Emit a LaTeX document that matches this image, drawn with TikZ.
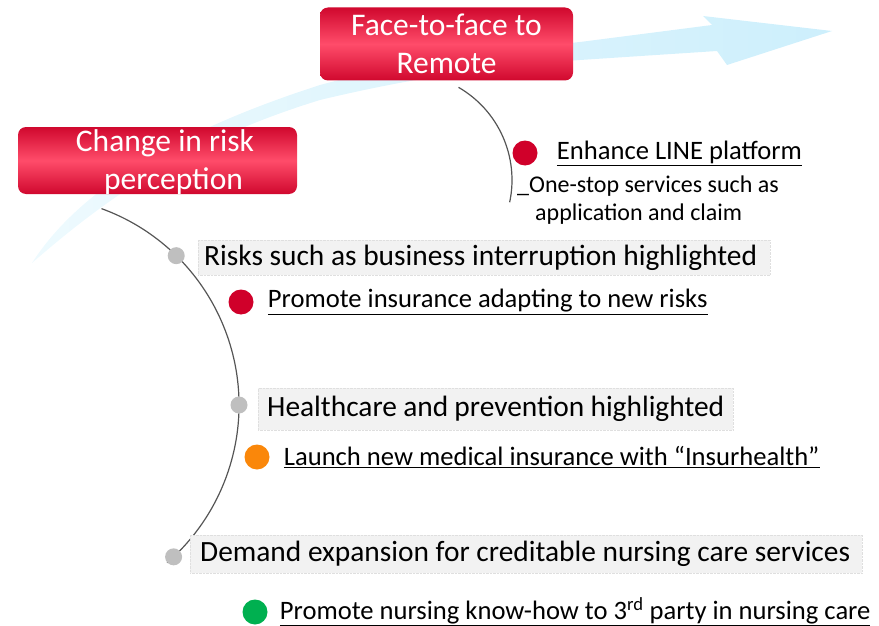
\documentclass[tikz,border=0pt]{standalone}
\usepackage{fontspec}
\setmainfont{Carlito}
\usetikzlibrary{positioning}

\definecolor{topicdark}{RGB}{208,8,46}
\definecolor{topiclight}{RGB}{255,76,106}
\definecolor{flowtail}{RGB}{238,250,254}
\definecolor{flowhead}{RGB}{205,239,252}
\definecolor{dotred}{RGB}{208,0,42}
\definecolor{dotorange}{RGB}{250,135,10}
\definecolor{dotgreen}{RGB}{0,176,80}
\definecolor{wiregray}{RGB}{85,85,85}

\tikzset{
	topic/.style={rounded corners=8pt, top color=topicdark, bottom color=topicdark,
		middle color=topiclight, text=white, align=center, inner sep=0pt,
		font=\fontsize{31.5}{38}\selectfont},
	theme/.style={fill=gray!10, draw=gray!25, densely dotted, anchor=west, align=flush left,
		inner xsep=10pt, font=\fontsize{29.4}{34}\selectfont},
	pin/.style={circle, fill=gray!50, minimum size=17pt, inner sep=0pt},
	bullet/.style={circle, minimum size=25pt, inner sep=0pt},
	action/.style={inner sep=0pt, font=\fontsize{26.6}{32}\selectfont},
	note/.style={inner sep=0pt, align=flush left, font=\fontsize{24}{28}\selectfont},
	wire/.style={draw=wiregray, line width=1.2pt}
}

\begin{document}
\begin{tikzpicture}[x=1pt, y=-1pt]
	\useasboundingbox (0,0) rectangle (879,626);

	% the wide light arrow behind both topics
	\shade[left color=flowtail, right color=flowhead]
		(32,263) .. controls (80,188) and (180,130) .. (320,85)
		.. controls (420,58) and (500,50) .. (580,42)
		-- (712,25) -- (703,16) -- (832,31) -- (727,65) -- (717,51)
		-- (580,60) .. controls (500,66) and (420,76) .. (320,100)
		.. controls (190,140) and (110,195) .. (32,263) -- cycle;

	% topics
	\node[topic, minimum width=253pt, minimum height=73pt] (remote) at (446.5,44)
		{Face-to-face to\\Remote};
	\node[topic, minimum width=279pt, minimum height=67pt, text depth=2pt] (risk) at (157.5,160.5)
		{\hspace*{15pt}Change in risk\\\hspace*{32pt}perception};

	% branch under the remote topic
	\coordinate (remotehub) at (405,180);
	\coordinate (remotestart) at ([shift={(60:107pt)}]remotehub);
	\draw[wire] (remotestart) arc[start angle=60, end angle=-12, radius=107pt];

	\node[bullet, fill=dotred] (b0) at (525,153) {};
	\node[action, right=19pt of b0] (a0) {\underline{Enhance LINE platform}};
	\node[note, anchor=north west] (n0) at (517,176)
		{\_One-stop services such as\\\hspace*{18pt}application and claim};

	% branch under the risk topic
	\coordinate (riskhub) at (30,405);
	\coordinate (riskstart) at ([shift={(70:209pt)}]riskhub);
	\draw[wire] (riskstart) arc[start angle=70, end angle=-49, radius=209pt];

	\node[pin] (p1) at ([shift={(45.6:209pt)}]riskhub) {};
	\node[pin] (p2) at ([shift={(0:209pt)}]riskhub) {};
	\node[pin] (p3) at ([shift={(-46.6:209pt)}]riskhub) {};

	\node[theme, inner xsep=6pt, text width=560pt, minimum height=35pt] (t1) at (198,257.5)
		{Risks such as business interruption highlighted};
	\node[theme, inner xsep=9pt, text width=457pt, minimum height=42pt] (t2) at (258,409)
		{Healthcare and prevention highlighted};
	\node[theme, text width=652pt, minimum height=38pt] (t3) at (190,554)
		{Demand expansion for creditable nursing care services};

	\node[bullet, fill=dotred] (b1) at (241,302) {};
	\node[action, right=14pt of b1] (a1) {\underline{Promote insurance adapting to new risks}};
	\node[bullet, fill=dotorange] (b2) at (257,457) {};
	\node[action, right=14pt of b2] (a2) {\underline{Launch new medical insurance with “Insurhealth”}};
	\node[bullet, fill=dotgreen] (b3) at (255,612) {};
	\node[action, right=12pt of b3] (a3)
		{\underline{Promote nursing know-how to 3\textsuperscript{rd} party in nursing care}};
\end{tikzpicture}
\end{document}
